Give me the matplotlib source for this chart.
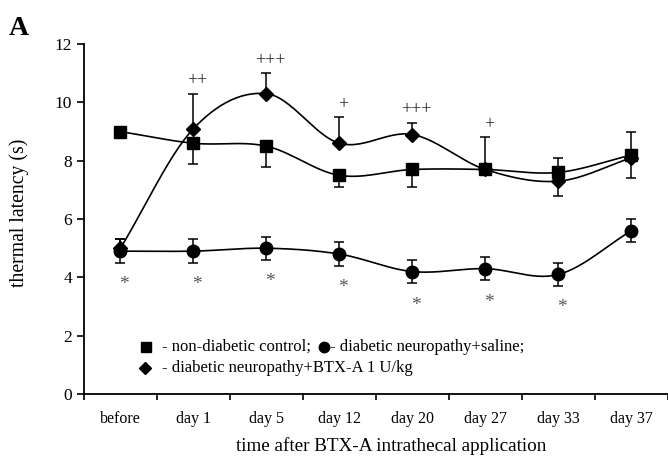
import numpy as np
import matplotlib
matplotlib.use("Agg")
import matplotlib.pyplot as plt

plt.rcParams['font.family'] = ['Liberation Serif', 'DejaVu Serif']

categories = ["before", "day 1", "day 5", "day 12", "day 20", "day 27", "day 33", "day 37"]

control = [9.0, 8.6, 8.5, 7.5, 7.7, 7.7, 7.6, 8.2]
control_lo = [0.0, 0.7, 0.7, 0.4, 0.6, 0.0, 0.0, 0.0]
control_hi = [0.0, 0.0, 0.0, 0.0, 0.0, 0.0, 0.5, 0.8]

saline = [4.9, 4.9, 5.0, 4.8, 4.2, 4.3, 4.1, 5.6]
saline_err = [0.4, 0.4, 0.4, 0.4, 0.4, 0.4, 0.4, 0.4]
saline_marks = ["*", "*", "*", "*", "*", "*", "*", ""]

btx = [5.0, 9.1, 10.3, 8.6, 8.9, 7.7, 7.3, 8.1]
btx_lo = [0.0, 0.0, 0.0, 0.0, 0.0, 0.0, 0.5, 0.7]
btx_hi = [0.3, 1.2, 0.7, 0.9, 0.4, 1.1, 0.0, 0.0]
btx_marks = ["", "++", "+++", "+", "+++", "+", "", ""]


def smooth(y, n=30):
    # catmull-rom through the points, like the spreadsheet "smoothed line"
    y = np.asarray(y, float)
    x = np.arange(len(y), dtype=float)
    px = np.concatenate([[2 * x[0] - x[1]], x, [2 * x[-1] - x[-2]]])
    py = np.concatenate([[2 * y[0] - y[1]], y, [2 * y[-1] - y[-2]]])
    xs, ys = [], []
    t = np.linspace(0, 1, n)
    for i in range(1, len(px) - 2):
        for p, out in ((px, xs), (py, ys)):
            p0, p1, p2, p3 = p[i - 1], p[i], p[i + 1], p[i + 2]
            out.extend(0.5 * (2 * p1 + (-p0 + p2) * t
                              + (2 * p0 - 5 * p1 + 4 * p2 - p3) * t ** 2
                              + (-p0 + 3 * p1 - 3 * p2 + p3) * t ** 3))
    return np.array(xs), np.array(ys)


fig = plt.figure(figsize=(6.68, 4.61), dpi=100)
ax = fig.add_axes([0.1257, 0.1453, 0.874, 0.759])

x = np.arange(len(categories))
ekw = dict(fmt="none", ecolor="black", elinewidth=1.1, capsize=3.9, capthick=1.1)

for vals, lo, hi, mk, ms in [(control, control_lo, control_hi, "s", 8.5),
                             (saline, saline_err, saline_err, "o", 9),
                             (btx, btx_lo, btx_hi, "D", 7)]:
    sx, sy = smooth(vals)
    ax.plot(sx, sy, color="black", lw=1.2, zorder=2)
    ax.errorbar(x, vals, yerr=[lo, hi], zorder=3, **ekw)
    ax.plot(x, vals, ls="none", marker=mk, ms=ms, color="black", zorder=4)

for i, m in enumerate(saline_marks):
    if m:
        ax.text(i + 0.05, saline[i] - saline_err[i] - 0.75, m, ha="center", va="center",
                fontsize=14, color="#555555")
for i, m in enumerate(btx_marks):
    if m:
        ax.text(i + 0.05, btx[i] + btx_hi[i] + 0.15, m, ha="center", va="bottom",
                fontsize=13, color="#222222")

# legend drawn by hand, as in the original figure
leg_y = [1.62, 0.88]
ax.plot(0.35, leg_y[0], "s", ms=7.2, color="black", clip_on=False)
ax.text(0.57, leg_y[0], "- non-diabetic control;", ha="left", va="center", fontsize=12)
ax.plot(2.79, leg_y[0], "o", ms=7.5, color="black", clip_on=False)
ax.text(2.87, leg_y[0], "- diabetic neuropathy+saline;", ha="left", va="center", fontsize=12)
ax.plot(0.34, leg_y[1], "D", ms=6, color="black", clip_on=False)
ax.text(0.57, leg_y[1], "- diabetic neuropathy+BTX-A 1 U/kg", ha="left", va="center",
        fontsize=12)

ax.set_xlim(-0.5, len(categories) - 0.5)
ax.set_ylim(0, 12)
ax.set_yticks(range(0, 13, 2))
ax.set_xticks(np.arange(-0.5, len(categories)), labels=[])
ax.set_xticks(x, labels=categories, minor=True)
ax.tick_params(axis="x", which="minor", length=0, pad=12, labelsize=11.5)
ax.tick_params(axis="x", which="major", length=4, width=1.2, direction="out")
ax.tick_params(axis="y", length=5, width=1.2, labelsize=12.5)
for s in ["top", "right"]:
    ax.spines[s].set_visible(False)
for s in ["left", "bottom"]:
    ax.spines[s].set_linewidth(1.3)

ax.set_ylabel("thermal latency (s)", fontsize=14.2)
ax.yaxis.set_label_coords(-0.094, 0.517)
ax.set_xlabel("time after BTX-A intrathecal application", fontsize=13.8)
ax.xaxis.set_label_coords(0.526, -0.123)
fig.text(0.013, 0.925, "A", fontsize=20, fontweight="bold")

fig.savefig("out.png", dpi=100)
